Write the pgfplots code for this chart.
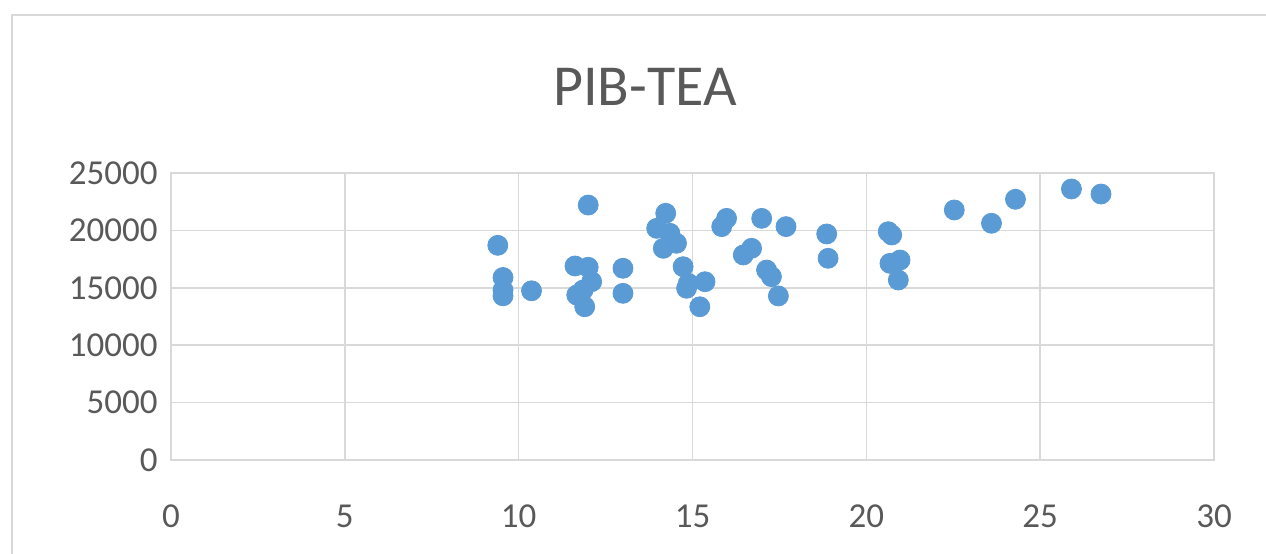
\documentclass[border=0pt]{standalone}
\usepackage{pgfplots}
\pgfplotsset{compat=1.18}
\usepackage{fontspec}
\setmainfont{Carlito}
\definecolor{ptblue}{HTML}{5B9BD5}
\definecolor{gridc}{HTML}{D9D9D9}
\definecolor{txt}{HTML}{595959}
\begin{document}
\begin{tikzpicture}[x=0.5pt,y=0.5pt]
\path[use as bounding box] (0,0) rectangle (1266,553);
\draw[gridc,line width=1pt] (12,-5) -- (12,538) -- (1280,538);
\node[txt,font=\fontsize{29}{32}\selectfont] at (645,466) {PIB-TEA};
\begin{axis}[
  at={(85.5pt,46.5pt)}, anchor=south west,
  scale only axis, width=521.5pt, height=143.5pt,
  xmin=0, xmax=30, ymin=0, ymax=25000,
  xtick={0,5,...,30}, ytick={0,5000,...,25000},
  grid=major, major grid style={gridc, line width=0.8pt},
  axis line style={gridc, line width=0.8pt},
  tick style={draw=none},
  /pgf/number format/assume math mode=true,
  /pgf/number format/1000 sep={},
  scaled y ticks=false,
  ticklabel style={txt, font=\fontsize{17.5}{20}\selectfont},
  xticklabel style={anchor=center, yshift=-28pt},
  yticklabel style={anchor=east, inner sep=0pt, xshift=-6.5pt},
  clip=false,
]
\addplot[only marks, mark=*, mark size=5pt, mark options={fill=ptblue, draw=ptblue}] coordinates {
(9.40,18700) (9.55,15900) (9.55,14800) (9.55,14300) (10.37,14740)
(12.00,22210) (11.62,16900) (12.00,16790) (12.10,15530) (11.67,14370)
(11.85,14800) (11.90,13350) (13.00,16700) (13.00,14520)
(14.23,21490) (13.97,20180) (14.35,19750) (14.16,18440) (14.54,18880)
(14.73,16840) (14.88,15390) (14.83,14960) (15.36,15530) (15.21,13350)
(15.98,21050) (15.84,20330) (16.99,21050) (17.69,20330)
(16.70,18440) (16.46,17860) (17.13,16550) (17.27,15970) (17.47,14290)
(18.86,19690) (18.90,17570)
(20.63,19890) (20.73,19600) (20.68,17130) (20.97,17420) (20.92,15680)
(22.53,21780) (23.60,20620) (24.29,22710) (25.90,23610) (26.75,23170)
};
\end{axis}
\end{tikzpicture}
\end{document}
